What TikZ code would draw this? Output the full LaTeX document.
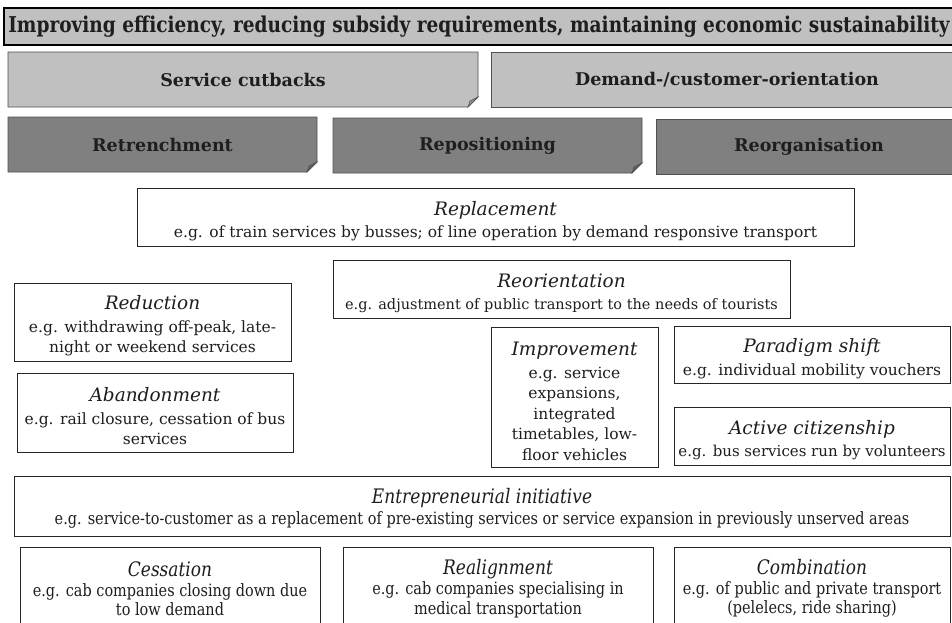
\documentclass[tikz,border=0pt]{standalone}
\usepackage{fontspec}
\setmainfont{DejaVu Serif}
\newfontfamily\condfont[FakeStretch=0.85]{DejaVu Serif}
\usetikzlibrary{backgrounds}
\definecolor{lightfill}{HTML}{C0C0C0}
\definecolor{darkfill}{HTML}{808080}
\definecolor{txt}{HTML}{1E1E1E}
\definecolor{edgegray}{HTML}{505050}
\newcommand\cardtitle[1]{{\fontsize{18.5}{22}\selectfont\itshape\rule{0pt}{22pt}#1}\\[2pt]}
\newcommand\condtitle[1]{{\fontsize{20}{24}\selectfont\itshape\rule{0pt}{20pt}#1}\\[1.5pt]}
\newcommand\condtitleplain[1]{{\fontsize{20}{24}\selectfont\itshape #1}\\[0.5pt]}
\tikzset{
  base/.style={inner sep=0pt, outer sep=0pt, align=center, text=txt},
  topbar/.style={base, draw=black, line width=1.2pt, fill=lightfill,
    font=\condfont\bfseries\fontsize{21.8}{24}\selectfont},
  lvltwo/.style={base, fill=lightfill, draw=edgegray, line width=0.8pt,
    font=\bfseries\fontsize{17.5}{21}\selectfont},
  lvlthree/.style={base, fill=darkfill, draw=edgegray, line width=0.8pt,
    font=\bfseries\fontsize{17.5}{21}\selectfont},
  folded/.style={draw=none, fill=none},
  cardbox/.style={base, fill=white, draw=black!85, line width=0.8pt,
    font=\fontsize{15.5}{20.5}\selectfont},
  smallcard/.style={cardbox, font=\fontsize{#1}{20.5}\selectfont},
  condcard/.style={cardbox, font=\condfont\fontsize{17}{19.5}\selectfont},
  earedge/.style={draw=edgegray, line width=0.8pt},
  flap/.style={draw=edgegray, line width=0.6pt, fill=#1},
}
\newcommand\dogear[2]{%
  \begin{scope}[on background layer]
    \path[earedge, fill=#2] (#1.north west) -- (#1.north east)
      -- ([yshift=10pt]#1.south east) -- ([xshift=-10pt]#1.south east)
      -- (#1.south west) -- cycle;
  \end{scope}
  \path[flap=#2!75!black] ([yshift=10pt]#1.south east) -- ([xshift=-10pt]#1.south east)
      -- ([xshift=-8pt,yshift=6pt]#1.south east) -- cycle;
}
\begin{document}
\begin{tikzpicture}[x=1pt,y=-1pt]
\useasboundingbox (0,0) rectangle (952,622);
\begin{scope}[on background layer]
  \fill[white] (0,0) rectangle (952,622);
\end{scope}

% goal bar
\node[topbar, minimum width=960pt, minimum height=37pt] (goal) at (484,26.5)
  {Improving efficiency, reducing subsidy requirements, maintaining economic sustainability\hspace*{10pt}};

% level two
\node[lvltwo, folded, minimum width=470pt, minimum height=55pt] (cut) at (243,79.5) {Service cutbacks};
\dogear{cut}{lightfill}
\node[lvltwo, minimum width=472pt, minimum height=55pt] (demand) at (727,79.5) {Demand-/customer-orientation};

% level three
\node[lvlthree, folded, minimum width=309pt, minimum height=55pt] (retr) at (162.5,144.5) {Retrenchment};
\dogear{retr}{darkfill}
\node[lvlthree, folded, minimum width=309pt, minimum height=55pt] (repos) at (487.5,145.5) {Repositioning};
\dogear{repos}{darkfill}
\node[lvlthree, minimum width=306pt, minimum height=55pt] (reorg) at (809,146.5) {Reorganisation};

% strategy cards
\node[cardbox, minimum width=717pt, minimum height=58pt] (replace) at (495.5,217)
  {\cardtitle{Replacement} e.g. of train services by busses; of line operation by demand responsive transport};
\node[smallcard=14.5, minimum width=457pt, minimum height=58pt] (reorient) at (561.5,289)
  {\cardtitle{Reorientation} e.g. adjustment of public transport to the needs of tourists};
\node[cardbox, minimum width=277pt, minimum height=78pt] (reduce) at (152.5,322)
  {\cardtitle{Reduction} e.g. withdrawing off-peak, late-\\ night or weekend services};
\node[cardbox, minimum width=276pt, minimum height=79pt] (abandon) at (155,412.5)
  {\cardtitle{Abandonment} e.g. rail closure, cessation of bus\\ services};
\node[cardbox, minimum width=167pt, minimum height=140pt] (improve) at (574.5,397)
  {\cardtitle{Improvement} e.g. service\\ expansions,\\ integrated\\ timetables, low-\\ floor vehicles};
\node[cardbox, minimum width=276pt, minimum height=57pt] (paradigm) at (812,354.5)
  {\cardtitle{Paradigm shift} e.g. individual mobility vouchers};
\node[smallcard=15, minimum width=276pt, minimum height=58pt] (active) at (812,436)
  {\cardtitle{Active citizenship} e.g. bus services run by volunteers};

% entrepreneurial
\node[condcard, minimum width=936pt, minimum height=60pt] (entre) at (482,506)
  {\condtitle{Entrepreneurial initiative} e.g. service-to-customer as a replacement of pre-existing services or service expansion in previously unserved areas};
\node[condcard, minimum width=300pt, minimum height=83pt] (cess) at (170,588.5)
  {\condtitleplain{Cessation} e.g. cab companies closing down due\\ to low demand};
\node[condcard, minimum width=310pt, minimum height=83pt] (realign) at (498,588.5)
  {\condtitleplain{Realignment} e.g. cab companies specialising in\\ medical transportation};
\node[condcard, minimum width=276pt, minimum height=83pt] (combine) at (812,588.5)
  {\condtitleplain{Combination} e.g. of public and private transport\\ (pelelecs, ride sharing)};
\end{tikzpicture}
\end{document}
